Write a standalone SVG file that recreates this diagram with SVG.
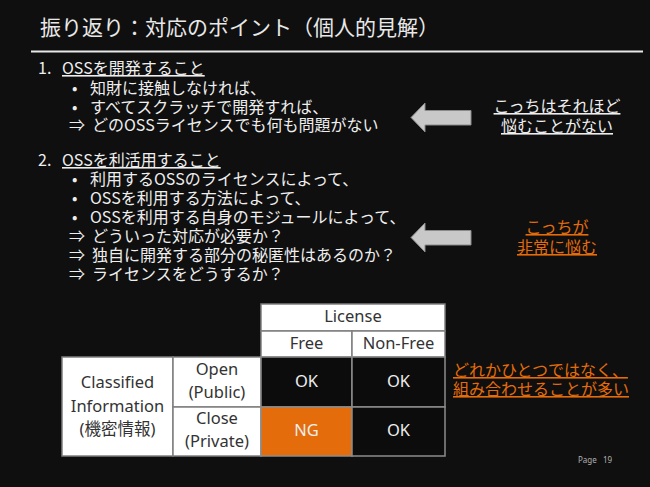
<svg xmlns="http://www.w3.org/2000/svg" width="650" height="487" viewBox="0 0 650 487">
<style>
  text { font-family: "Noto Sans CJK JP", "Noto Sans", sans-serif; }
  .title { font-size: 21px; fill: #e8e8e8; }
  .body { font-size: 16px; fill: #eeeeee; }
  .u { text-decoration: underline; }
  .white { font-size: 16px; fill: #eeeeee; }
  .orange { font-size: 16px; fill: #e46c0a; }
  .tl { font-family: "Noto Sans", "Noto Sans CJK JP", sans-serif; font-size: 16.5px; fill: #333333; text-anchor: middle; }
  .td { font-family: "Noto Sans", "Noto Sans CJK JP", sans-serif; font-size: 16.5px; fill: #eeeeee; text-anchor: middle; }
  .cw { fill: #ffffff; stroke: #7f7f7f; stroke-width: 1.5; }
  .cb { fill: #0c0c0c; stroke: #8c8c8c; stroke-width: 1.5; }
  .co { fill: #e46c0a; stroke: #8c8c8c; stroke-width: 1.5; }
  .arrow { fill: #c8c8c8; stroke: #8a8a8a; stroke-width: 1; }
  .page { font-family: "Noto Sans", sans-serif; font-size: 8px; fill: #b0b0b0; }
</style>
<rect x="0" y="0" width="650" height="487" fill="#0f0f0f"/>

<g id="title">
  <text class="title" x="40" y="35">振り返り：対応のポイント（個人的見解）</text>
  <line x1="31" y1="51.5" x2="643" y2="51.5" stroke="#e8e8e8" stroke-width="2"/>
</g>

<g id="section1">
  <text class="body" x="38" y="74">1.</text>
  <text class="body u" x="62" y="74">OSSを開発すること</text>
  <text class="body" x="72" y="94">•</text>
  <text class="body" x="90" y="94">知財に接触しなければ、</text>
  <text class="body" x="72" y="113">•</text>
  <text class="body" x="90" y="113">すべてスクラッチで開発すれば、</text>
  <text class="body" x="69" y="131">⇒</text>
  <text class="body" x="92" y="131">どのOSSライセンスでも何も問題がない</text>
</g>

<g id="section2">
  <text class="body" x="38" y="166">2.</text>
  <text class="body u" x="62" y="166">OSSを利活用すること</text>
  <text class="body" x="72" y="185">•</text>
  <text class="body" x="90" y="185">利用するOSSのライセンスによって、</text>
  <text class="body" x="72" y="204">•</text>
  <text class="body" x="90" y="204">OSSを利用する方法によって、</text>
  <text class="body" x="72" y="223">•</text>
  <text class="body" x="90" y="223">OSSを利用する自身のモジュールによって、</text>
  <text class="body" x="69" y="242">⇒</text>
  <text class="body" x="92" y="242">どういった対応が必要か？</text>
  <text class="body" x="69" y="261">⇒</text>
  <text class="body" x="92" y="261">独自に開発する部分の秘匿性はあるのか？</text>
  <text class="body" x="69" y="280">⇒</text>
  <text class="body" x="92" y="280">ライセンスをどうするか？</text>
</g>

<g id="note1">
  <text class="white u" x="557" y="112" text-anchor="middle">こっちはそれほど</text>
  <text class="white u" x="557" y="132" text-anchor="middle">悩むことがない</text>
</g>

<g id="note2">
  <text class="orange u" x="557" y="233" text-anchor="middle">こっちが</text>
  <text class="orange u" x="557" y="253" text-anchor="middle">非常に悩む</text>
</g>

<g id="note3">
  <text class="orange u" x="453" y="376">どれかひとつではなく、</text>
  <text class="orange u" x="453" y="395">組み合わせることが多い</text>
</g>

<g id="connectors">
  <polygon class="arrow" points="411,117.5 425,103 425,110.5 471,110.5 471,125 425,125 425,132"/>
  <polygon class="arrow" points="411,237.5 425,223 425,230.5 471,230.5 471,245 425,245 425,252"/>
</g>

<g id="table">
  <rect class="cw" x="261" y="304" width="184" height="27"/>
  <text class="tl" x="353" y="322">License</text>
  <rect class="cw" x="261" y="331" width="91" height="26"/>
  <text class="tl" x="306.5" y="349">Free</text>
  <rect class="cw" x="352" y="331" width="93" height="26"/>
  <text class="tl" x="398.5" y="349">Non-Free</text>

  <rect class="cw" x="62" y="357" width="111" height="99"/>
  <text class="tl" x="117.5" y="388">Classified</text>
  <text class="tl" x="117.5" y="412">Information</text>
  <text class="tl" x="117.5" y="435">(機密情報)</text>

  <rect class="cw" x="173" y="357" width="88" height="50"/>
  <text class="tl" x="217" y="375">Open</text>
  <text class="tl" x="217" y="398">(Public)</text>
  <rect class="cw" x="173" y="407" width="88" height="49"/>
  <text class="tl" x="217" y="424">Close</text>
  <text class="tl" x="217" y="447">(Private)</text>

  <rect class="cb" x="261" y="357" width="91" height="50"/>
  <text class="td" x="306.5" y="387">OK</text>
  <rect class="cb" x="352" y="357" width="93" height="50"/>
  <text class="td" x="398.5" y="387">OK</text>
  <rect class="co" x="261" y="407" width="91" height="49"/>
  <text class="td" x="306.5" y="436">NG</text>
  <rect class="cb" x="352" y="407" width="93" height="49"/>
  <text class="td" x="398.5" y="436">OK</text>
</g>

<g id="footer">
  <text class="page" x="578" y="463">Page</text>
  <text class="page" x="603" y="463">19</text>
</g>
</svg>
